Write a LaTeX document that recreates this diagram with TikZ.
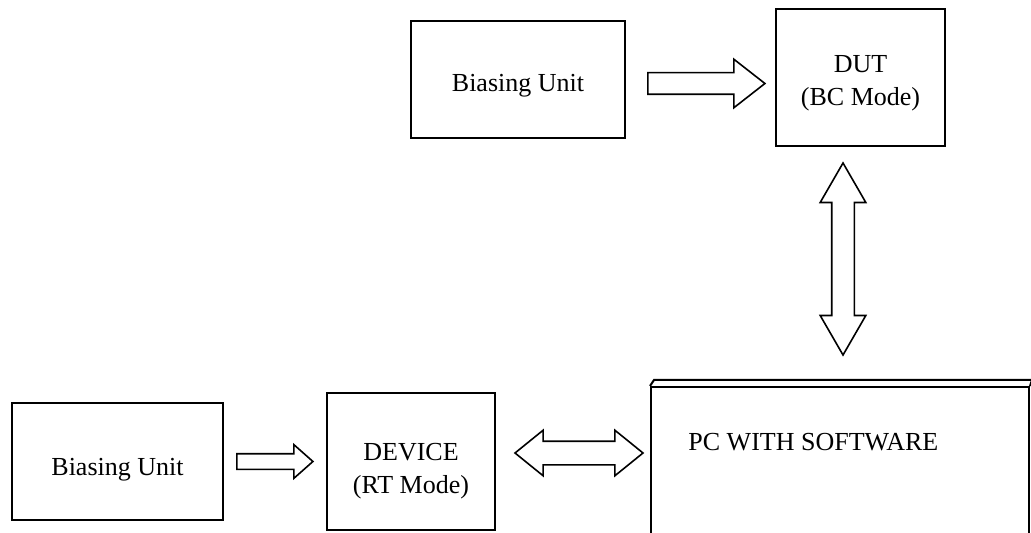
\documentclass[tikz,border=0pt]{standalone}
\usepackage{fontspec}
\setmainfont{Liberation Serif}
\usetikzlibrary{shapes.arrows,calc}
\tikzset{
  unitbox/.style={draw, line width=1pt, inner sep=0pt, align=center,
    font=\fontsize{13}{16.5}\selectfont},
  hollowarrow/.style={draw, single arrow, line width=0.8pt, inner xsep=0pt},
  hollowdouble/.style={draw, double arrow, line width=0.8pt, inner xsep=0pt}
}
\begin{document}
\begin{tikzpicture}[x=0.5pt,y=-0.5pt]
\useasboundingbox (0,0) rectangle (1031,533);
% boxes
\node[unitbox, minimum width=107pt, minimum height=58.5pt] (bias1) at (518,79.5) {\rule{0pt}{15pt}Biasing Unit};
\node[unitbox, minimum width=84.5pt, minimum height=68.5pt] (dut) at (860.5,77.5) {\rule{0pt}{14.6pt}DUT\\(BC Mode)};
\node[unitbox, minimum width=105.5pt, minimum height=58.5pt] (bias2) at (117.5,461.5) {\rule{0pt}{17pt}Biasing Unit};
\node[unitbox, minimum width=84pt, minimum height=68.5pt] (dev) at (411,461.5) {\rule{0pt}{18.6pt}DEVICE\\(RT Mode)};
\node[unitbox, minimum width=189pt, minimum height=86.5pt] (pc) at (840,473.5) {};
\node[anchor=west, inner sep=0pt, font=\fontsize{13}{16.5}\selectfont] (pctext)
  at ($(pc.north west)+(38,56)$) {PC WITH SOFTWARE};
\draw[line width=1pt] (pc.north west) -- ++(4,-6) -- ($(pc.north east)+(2,-6)$) -- (pc.north east);
% arrows
\node[hollowarrow, inner ysep=5pt, minimum height=58.5pt, minimum width=23.5pt,
  single arrow head extend=6.75pt, single arrow tip angle=76,
  xshift=-0.5pt, yshift=-2.5pt] (a1) at ($(bias1.east)!0.5!(dut.west)$) {};
\node[hollowarrow, inner ysep=3.5pt, minimum height=38pt, minimum width=16pt,
  single arrow head extend=4.5pt, single arrow tip angle=83, xshift=-2.25pt] (a2)
  at ($(bias2.east)!0.5!(dev.west)$) {};
\node[hollowdouble, inner ysep=5.5pt, minimum height=64pt, minimum width=22pt,
  double arrow head extend=5.5pt, double arrow tip angle=78,
  xshift=3pt, yshift=4.25pt] (a3) at ($(dev.east)!0.5!(pc.west |- dev.east)$) {};
\node[hollowdouble, inner ysep=5.25pt, rotate=90, minimum height=96pt, minimum width=22pt,
  double arrow head extend=5.75pt, double arrow tip angle=60,
  xshift=3.75pt, yshift=-1.5pt] (a4) at ($(pc.north)!0.5!(pc.north |- dut.south)$) {};
\end{tikzpicture}
\end{document}
